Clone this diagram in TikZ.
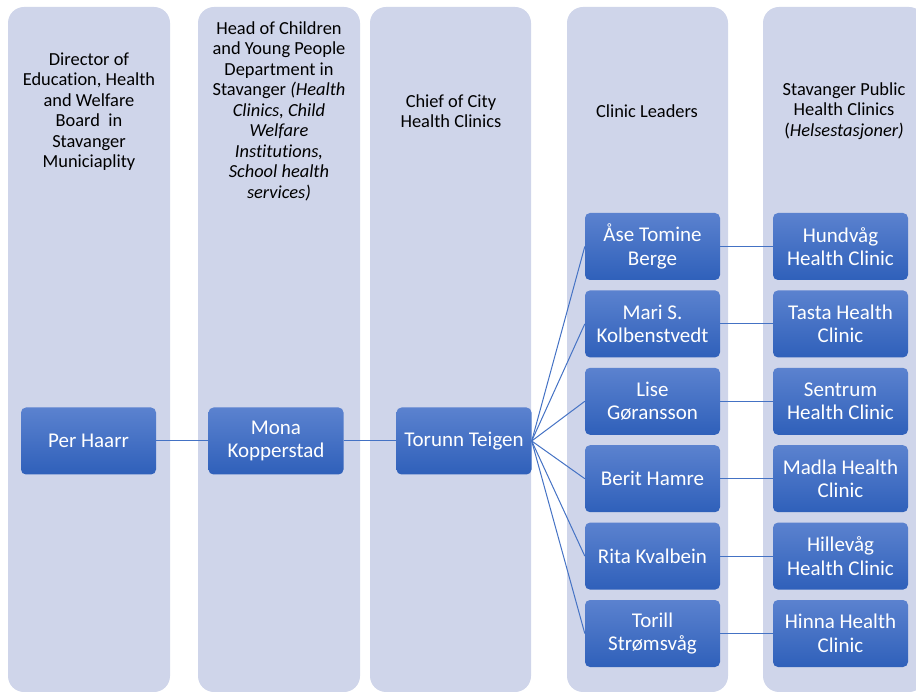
\documentclass[tikz,border=0pt]{standalone}
\usepackage{fontspec}
\setmainfont[Ligatures=NoCommon]{Carlito}
\definecolor{lanefill}{HTML}{CFD5EA}
\definecolor{boxtop}{HTML}{5B82CF}
\definecolor{boxbot}{HTML}{2F60BA}
\definecolor{linkblue}{HTML}{4472C4}
\tikzset{
	lanebg/.style={fill=lanefill,rounded corners=16pt},
	head/.style={align=center,text=black,font=\fontsize{18.4}{20.5}\selectfont},
	person/.style={rounded corners=5pt,top color=boxtop,bottom color=boxbot,
		minimum width=135pt,minimum height=67pt,inner sep=2pt,align=center,
		text=white,font=\fontsize{21}{23.6}\selectfont},
	link/.style={draw=linkblue,line width=1pt}
}
\begin{document}
\begin{tikzpicture}[x=1pt,y=-1pt]
			\useasboundingbox (0,0) rectangle (916,692);
			% lanes
			\fill[lanebg] (8,7) rectangle (170,692);
			\fill[lanebg] (198,7) rectangle (360,692);
			\fill[lanebg] (370,7) rectangle (531,692);
			\fill[lanebg] (567,7) rectangle (728,692);
			\fill[lanebg] (763,7) rectangle (925,692);
			% headings
			\node[head] (hdir) at (89,111.5) {Director of\\Education, Health\\and Welfare\\Board\ \ in\\Stavanger\\Municiaplity};
			\node[head] (hdept) at (279,111) {Head of Children\\and Young People\\Department in\\Stavanger \textit{(Health}\\\textit{Clinics, Child}\\\textit{Welfare}\\\textit{Institutions,}\\\textit{School health}\\\textit{services)}};
			\node[head] (hchief) at (451,111) {Chief of City\\Health Clinics};
			\node[head] (hlead) at (647,111) {Clinic Leaders};
			\node[head] (hclin) at (844,111) {Stavanger Public\\Health Clinics\\(\textit{Helsestasjoner)}};
			% people
			\node[person] (per) at (88.5,441) {Per Haarr};
			\node[person] (mona) at (276,441) {Mona\\Kopperstad};
			\node[person] (torunn) at (464,441) {Torunn Teigen};
			\node[person] (ase) at (652.5,246.5) {Åse Tomine\\Berge};
			\node[person] (mari) at (652.5,323.9) {Mari S.\\Kolbenstvedt};
			\node[person] (lise) at (652.5,401.3) {Lise\\Gøransson};
			\node[person] (berit) at (652.5,478.7) {Berit Hamre};
			\node[person] (rita) at (652.5,556.1) {Rita Kvalbein};
			\node[person] (torill) at (652.5,633.5) {Torill\\Strømsvåg};
			% clinics
			\node[person] (hundvag) at (840.5,246.5) {Hundvåg\\Health Clinic};
			\node[person] (tasta) at (840.5,323.9) {Tasta Health\\Clinic};
			\node[person] (sentrum) at (840.5,401.3) {Sentrum\\Health Clinic};
			\node[person] (madla) at (840.5,478.7) {Madla Health\\Clinic};
			\node[person] (hillevag) at (840.5,556.1) {Hillevåg\\Health Clinic};
			\node[person] (hinna) at (840.5,633.5) {Hinna Health\\Clinic};
			% links
			\draw[link] (per)--(mona);
			\draw[link] (mona)--(torunn);
			\draw[link] (torunn.east)--(ase.west);
			\draw[link] (torunn.east)--(mari.west);
			\draw[link] (torunn.east)--(lise.west);
			\draw[link] (torunn.east)--(berit.west);
			\draw[link] (torunn.east)--(rita.west);
			\draw[link] (torunn.east)--(torill.west);
			\draw[link] (ase)--(hundvag);
			\draw[link] (mari)--(tasta);
			\draw[link] (lise)--(sentrum);
			\draw[link] (berit)--(madla);
			\draw[link] (rita)--(hillevag);
			\draw[link] (torill)--(hinna);
		\end{tikzpicture}
\end{document}
